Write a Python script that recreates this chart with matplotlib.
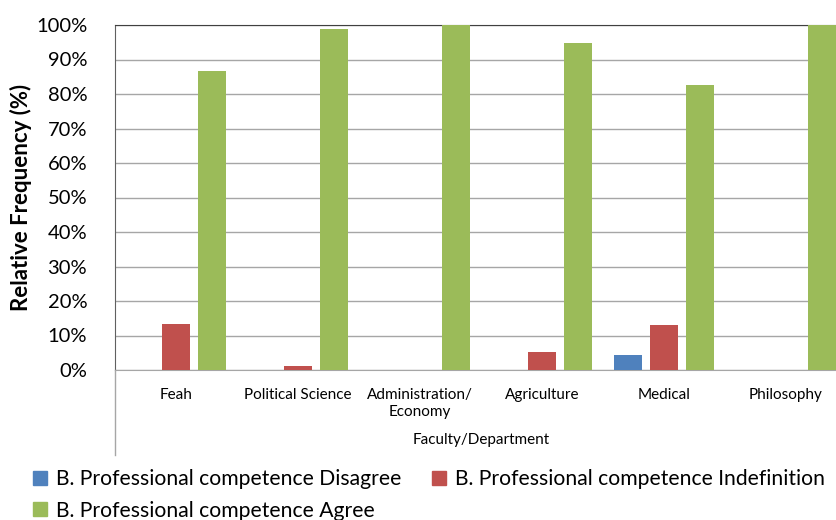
import matplotlib

matplotlib.use("Agg")
import matplotlib.pyplot as plt
import numpy as np
from matplotlib.patches import Patch

categories = ["Feah", "Political Science", "Administration/\nEconomy", "Agriculture", "Medical", "Philosophy"]
disagree = [0.0, 0.0, 0.0, 0.0, 4.3, 0.0]
indefinition = [13.3, 1.3, 0.0, 5.3, 13.0, 0.0]
agree = [86.7, 98.7, 100.0, 94.7, 82.6, 100.0]
series_labels = [
    "B. Professional competence Disagree",
    "B. Professional competence Indefinition",
    "B. Professional competence Agree",
]
colors = ["#4F81BD", "#C0504D", "#9BBB59"]

plt.rcParams["font.family"] = ["Lato", "DejaVu Sans"]

fig = plt.figure(figsize=(8.37, 5.20), dpi=100)
ax = fig.add_axes([115 / 837, 150 / 520, 732 / 837, 345 / 520])

x = np.arange(len(categories))
width = 28 / 122
step = 36 / 122
for i, (vals, col) in enumerate(zip([disagree, indefinition, agree], colors)):
    ax.bar(x + (i - 1) * step, vals, width=width, color=col, zorder=3)

ax.set_xlim(-0.5, len(categories) - 0.5)
ax.set_ylim(0, 100)
ax.set_yticks(np.arange(0, 101, 10))
ax.set_yticklabels([f"{v}%" for v in range(0, 101, 10)], fontsize=14.5)
ax.tick_params(axis="y", length=0, pad=20)
ax.set_xticks(x)
ax.set_xticklabels(categories, fontsize=11, linespacing=1.3, va="top")
ax.tick_params(axis="x", length=0, pad=13)
ax.grid(axis="y", color="#a6a6a6", linewidth=1.0, zorder=0)
ax.spines["left"].set_color("#606060")
ax.spines["top"].set_color("#404040")
ax.spines["bottom"].set_color("#a6a6a6")
ax.spines["right"].set_visible(False)

ax.set_ylabel("Relative Frequency (%)", fontsize=16, fontweight="bold", labelpad=3)

# left category-axis extension line
fig.add_artist(plt.Line2D([115 / 837, 115 / 837], [65 / 520, 150 / 520], color="#a6a6a6", linewidth=1.0))
fig.text(481 / 837, 1 - 440 / 520, "Faculty/Department", fontsize=11, ha="center", va="center")

handles = [Patch(color=c) for c in colors]
order = [0, 2, 1]
fig.legend(
    [handles[i] for i in order],
    [series_labels[i] for i in order],
    ncol=2,
    loc="upper left",
    bbox_to_anchor=(33 / 837, 1 - 469 / 520),
    frameon=False,
    fontsize=15.2,
    handlelength=0.65,
    handleheight=0.65,
    handletextpad=0.45,
    columnspacing=1.45,
    labelspacing=0.55,
    borderaxespad=0,
    borderpad=0,
)

fig.savefig("out.png", dpi=100)
